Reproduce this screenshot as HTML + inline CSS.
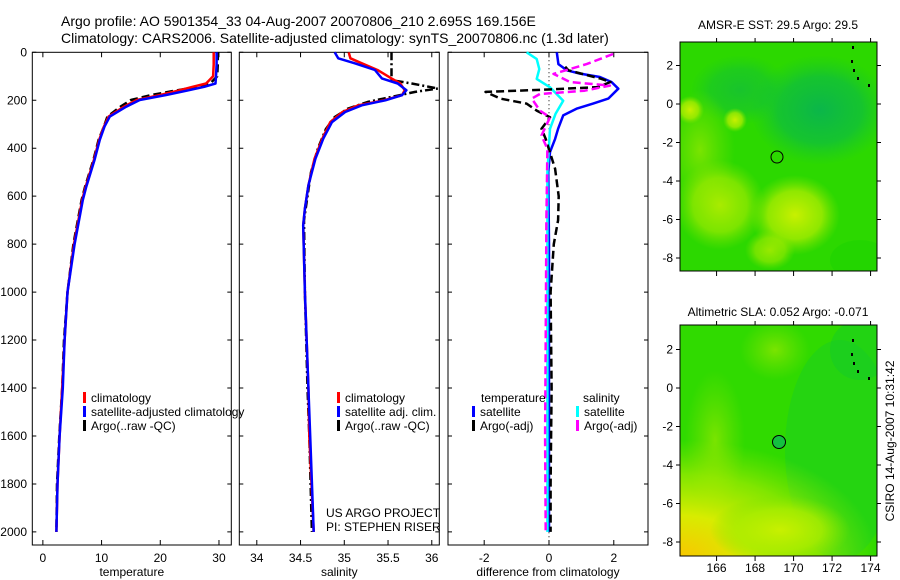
<!DOCTYPE html>
<html><head><meta charset="utf-8">
<style>
body{margin:0;background:#fff;}
svg{display:block;font-family:"Liberation Sans",sans-serif;}
text{font-size:12px;fill:#000;}
</style></head>
<body>
<svg id="c" width="900" height="580" viewBox="0 0 900 580">
<defs>
<radialGradient id="teal" cx="0.5" cy="0.5" r="0.5"><stop offset="0" stop-color="#0bb64a"/><stop offset="0.6" stop-color="#10bf3a" stop-opacity="0.8"/><stop offset="1" stop-color="#18c828" stop-opacity="0"/></radialGradient>
<radialGradient id="yel" cx="0.5" cy="0.5" r="0.5"><stop offset="0" stop-color="#c8f000"/><stop offset="0.6" stop-color="#a8ec00" stop-opacity="0.8"/><stop offset="1" stop-color="#80e400" stop-opacity="0"/></radialGradient>
<radialGradient id="lg" cx="0.5" cy="0.5" r="0.5"><stop offset="0" stop-color="#7ae400"/><stop offset="1" stop-color="#6ae000" stop-opacity="0"/></radialGradient>
<radialGradient id="org" cx="0" cy="1" r="1"><stop offset="0" stop-color="#f8c800"/><stop offset="0.35" stop-color="#d8ec00"/><stop offset="0.7" stop-color="#b8ee00" stop-opacity="0.6"/><stop offset="1" stop-color="#a0e800" stop-opacity="0"/></radialGradient>
<clipPath id="m1c"><rect x="680" y="42" width="197" height="229"/></clipPath>
<clipPath id="m2c"><rect x="680" y="325" width="197" height="231"/></clipPath>
</defs>
<text x="61" y="26" style="font-size:14px">Argo profile: AO 5901354_33 04-Aug-2007 20070806_210 2.695S 169.156E</text>
<text x="61" y="43" style="font-size:14px">Climatology: CARS2006. Satellite-adjusted climatology: synTS_20070806.nc (1.3d later)</text>

<g clip-path="url(#m1c)">
<rect x="680" y="42" width="197" height="229" fill="#2cd800"/>
<ellipse cx="820" cy="110" rx="70" ry="55" fill="url(#teal)"/>
<ellipse cx="740" cy="90" rx="50" ry="35" fill="url(#teal)" opacity="0.6"/>
<ellipse cx="700" cy="150" rx="35" ry="60" fill="url(#lg)"/>
<ellipse cx="720" cy="205" rx="45" ry="45" fill="url(#yel)" opacity="0.8"/>
<ellipse cx="795" cy="215" rx="45" ry="40" fill="url(#yel)"/>
<ellipse cx="770" cy="250" rx="25" ry="20" fill="url(#yel)" opacity="0.7"/>
<ellipse cx="735" cy="120" rx="12" ry="12" fill="url(#yel)"/>
<ellipse cx="690" cy="110" rx="14" ry="14" fill="url(#yel)"/>
<ellipse cx="860" cy="260" rx="30" ry="20" fill="#1ed400" opacity="0.6"/>
</g>
<rect x="680" y="42" width="197" height="229" fill="none" stroke="#000"/>
<circle cx="777" cy="157" r="6" fill="none" stroke="#000"/>

<g clip-path="url(#m2c)">
<rect x="680" y="325" width="197" height="231" fill="#30da00"/>
<ellipse cx="715" cy="440" rx="30" ry="70" fill="url(#lg)"/>
<ellipse cx="775" cy="350" rx="35" ry="30" fill="url(#lg)"/>
<ellipse cx="840" cy="450" rx="55" ry="110" fill="#10c830" opacity="0.35"/>
<ellipse cx="860" cy="350" rx="30" ry="30" fill="#10c830" opacity="0.4"/>
<rect x="680" y="440" width="197" height="116" fill="url(#org)"/>
<ellipse cx="780" cy="530" rx="70" ry="35" fill="url(#yel)"/>
</g>
<rect x="680" y="325" width="197" height="231" fill="none" stroke="#000"/>
<circle cx="779" cy="442" r="6.5" fill="#14c040" stroke="#000"/>

<text x="778" y="29" text-anchor="middle">AMSR-E SST: 29.5 Argo: 29.5</text>
<text x="778" y="316" text-anchor="middle">Altimetric SLA: 0.052 Argo: -0.071</text>
<text transform="translate(894,441) rotate(-90)" text-anchor="middle">CSIRO 14-Aug-2007 10:31:42</text>
<text x="326" y="517">US ARGO PROJECT</text>
<text x="326" y="531">PI: STEPHEN RISER</text>
</svg>
<script>
// ---- data ----
const tempDepth=[0,50,100,130,144,160,178,199,227,268,310,365,449,560,616,800,1000,1200,1400,1600,1800,2000];
const tempClim=[29.1,29.1,29.0,27.8,25.5,23.0,20.0,16.0,13.8,11.2,10.4,9.6,8.7,7.3,6.7,5.3,4.2,3.7,3.3,2.85,2.5,2.3];
const tempSat=[29.6,29.6,29.5,29.4,27.5,24.5,21.0,16.5,14.2,11.4,10.5,9.7,8.8,7.4,6.8,5.4,4.2,3.7,3.4,2.85,2.5,2.3];
const tempArgo=[29.8,29.8,29.7,28.5,26.5,22.5,18.5,15.0,13.2,11.0,10.4,9.5,8.6,7.2,6.6,5.2,4.2,3.6,3.3,2.8,2.4,2.3];
const salDepth=[0,25,46,74,109,130,158,179,200,221,249,291,360,444,555,652,721,1000,1400,1600,2000];
const salClim=[35.05,35.07,35.2,35.38,35.54,35.64,35.69,35.66,35.45,35.16,34.98,34.84,34.75,34.66,34.59,34.55,34.53,34.55,34.59,34.6,34.65];
const salSat=[34.89,34.93,35.12,35.35,35.43,35.61,35.71,35.66,35.47,35.20,35.01,34.86,34.76,34.67,34.59,34.55,34.53,34.55,34.59,34.61,34.65];
const argoSalDepth=[0,116,130,151,165,186,207,235,270,320,400,500,700,1000,1400,1600,2000];
const argoSal=[35.54,35.54,35.77,36.07,35.81,35.54,35.27,35.04,34.89,34.79,34.7,34.62,34.54,34.55,34.58,34.6,34.63];
const dTSatDepth=[0,49,75,89,103,124,152,193,214,235,263,319,361,416,500,800,1200,1600,2000];
const dTSat=[0.24,0.29,0.55,0.96,1.57,1.93,2.14,1.83,1.36,0.85,0.44,0.28,0.19,0.03,-0.02,0.0,0.0,0.0,0.0];
const dTArgoDepth=[60,75,110,124,145,155,165,193,214,243,271,319,361,486,600,700,800,1000,1400,1800,2000];
const dTArgo=[0.5,0.6,1.6,1.9,1.5,0.0,-1.96,-1.5,-0.69,-0.38,0.03,-0.23,-0.1,0.19,0.3,0.28,0.15,0.05,0.08,0.05,0.05];
const dSSatDepth=[0,28,70,111,146,202,257,319,500,1000,1500,2000];
const dSSat=[-0.69,-0.38,-0.3,-0.38,0.03,0.44,0.2,0.03,-0.05,-0.05,-0.05,-0.05];
const dSArgoDepth=[7,49,90,124,139,160,174,193,243,271,347,403,700,1200,1600,2000];
const dSArgo=[1.98,1.16,0.14,0.65,1.88,1.1,-0.28,-0.53,-0.28,0.03,-0.23,-0.05,-0.08,-0.1,-0.12,-0.1];
const depthTicks=[0,200,400,600,800,1000,1200,1400,1600,1800,2000];
const tempTicks=[0,10,20,30];
const salTicks=[34,34.5,35,35.5,36];
const diffTicks=[-2,0,2];
const latTicks=[2,0,-2,-4,-6,-8];
const lonTicks=[166,168,170,172,174];

(function(){
const svg=document.getElementById('c');
const NS='http://www.w3.org/2000/svg';
function mk(tag,attrs){const e=document.createElementNS(NS,tag);for(const k in attrs)e.setAttribute(k,attrs[k]);svg.appendChild(e);return e;}
const yD=d=>52.3+d*0.2398;
const P=[
 {x0:32.3,x1:231.3,v0:-1.8,v1:32.1,ticks:tempTicks,label:'temperature',name:'temperature'},
 {x0:239.3,x1:439.3,v0:33.80,v1:36.086,ticks:salTicks,label:'salinity',name:'salinity'},
 {x0:448,x1:648,v0:-3.117,v1:3.056,ticks:diffTicks,label:'difference from climatology',name:'difference'}];
P.forEach(p=>{p.sx=v=>p.x0+(v-p.v0)/(p.v1-p.v0)*(p.x1-p.x0);});
const pTop=52.3,pBot=545;
P.forEach((p,i)=>{
  const r=mk('rect',{x:p.x0,y:pTop,width:p.x1-p.x0,height:pBot-pTop,fill:'none',stroke:'#000'});
  
  
  p.ticks.forEach(t=>{
    const x=p.sx(t);
    const tk=mk('path',{d:`M${x} ${pBot}v-5M${x} ${pTop}v5`,stroke:'#000'});
    
    
    const tl=mk('text',{x:x,y:pBot+17,'text-anchor':'middle'});tl.textContent=String(t);
    
    
  });
  depthTicks.forEach(d=>{
    const y=yD(d);
    const tk=mk('path',{d:`M${p.x0} ${y}h4M${p.x1} ${y}h-4`,stroke:'#000'});
    
    
    if(i===0){const tl=mk('text',{x:27,y:y+4,'text-anchor':'end'});tl.textContent=String(d);
      
      }
  });
  const xl=mk('text',{x:(p.x0+p.x1)/2,y:576,'text-anchor':'middle'});xl.textContent=p.label;
  
  
});
function line(p,vals,depths,color,dash,name){
  const d=vals.map((v,k)=>(k?'L':'M')+p.sx(v).toFixed(1)+' '+yD(depths[k]).toFixed(1)).join('');
  const a={d:d,fill:'none',stroke:color,'stroke-width':2.5,'stroke-linejoin':'round'};
  if(dash)a['stroke-dasharray']=dash;
  const e=mk('path',a);
  
  
}
const z=mk('path',{d:`M${P[2].sx(0)} ${pTop}V${pBot}`,stroke:'#000','stroke-dasharray':'1,3'});


line(P[0],tempArgo,tempDepth,'#000','8,4','temp-argo-line');
line(P[0],tempClim,tempDepth,'#f00',null,'temp-climatology-line');
line(P[0],tempSat,tempDepth,'#00f',null,'temp-satellite-line');
line(P[1],argoSal,argoSalDepth,'#000','8,3,2,3','sal-argo-line');
line(P[1],salClim,salDepth,'#f00',null,'sal-climatology-line');
line(P[1],salSat,salDepth,'#00f',null,'sal-satellite-line');
line(P[2],dTSat,dTSatDepth,'#00f',null,'diff-temp-satellite-line');
line(P[2],dSSat,dSSatDepth,'#0ff',null,'diff-sal-satellite-line');
line(P[2],dTArgo,dTArgoDepth,'#000','8,4','diff-temp-argo-line');
line(P[2],dSArgo,dSArgoDepth,'#f0f','8,4','diff-sal-argo-line');
function leg(x,y,color,txt,name){
  const m=mk('rect',{x:x,y:y-6,width:3,height:11,fill:color});
  
  
  if(txt){const t=mk('text',{x:x+8,y:y+4});t.textContent=txt;
  
  }
}
leg(83,398,'#f00','climatology','legend-temp-climatology');
leg(83,412,'#00f','satellite-adjusted climatology','legend-temp-satellite');
leg(83,426,'#000','Argo(..raw -QC)','legend-temp-argo');
leg(337,398,'#f00','climatology','legend-sal-climatology');
leg(337,412,'#00f','satellite adj. clim.','legend-sal-satellite');
leg(337,426,'#000','Argo(..raw -QC)','legend-sal-argo');
const h1=mk('text',{x:481,y:402});h1.textContent='temperature';


const h2=mk('text',{x:583,y:402});h2.textContent='salinity';


leg(472,412,'#00f','satellite','legend-diff-temp-satellite');
leg(472,426,'#000','Argo(-adj)','legend-diff-temp-argo');
leg(576,412,'#0ff','satellite','legend-diff-sal-satellite');
leg(576,426,'#f0f','Argo(-adj)','legend-diff-sal-argo');
const lonX=v=>680+(v-164.1)*19.25;
[[42,271,104],[325,556,388]].forEach((m,mi)=>{
  latTicks.forEach(l=>{
    const y=m[2]-l*19.25;
    const tk=mk('path',{d:`M680 ${y}h-4M877 ${y}h4`,stroke:'#000'});
    
    
    const t=mk('text',{x:673,y:y+4,'text-anchor':'end'});t.textContent=String(l);
    
    
  });
  lonTicks.forEach(l=>{
    const x=lonX(l);
    const tk=mk('path',{d:`M${x} ${m[1]}v5M${x} ${m[0]}v-4`,stroke:'#000'});
    
    
    if(mi===1){const t=mk('text',{x:x,y:572,'text-anchor':'middle'});t.textContent=String(l);
      
      }
  });
  [[852,4],[851,18],[853,27],[857,35],[868,42]].forEach(q=>{
    const s=mk('rect',{x:q[0],y:m[0]+q[1]+(mi?10:0),width:2,height:3,fill:'#000'});
    
    
  });
});
})();
</script>
</body></html>
